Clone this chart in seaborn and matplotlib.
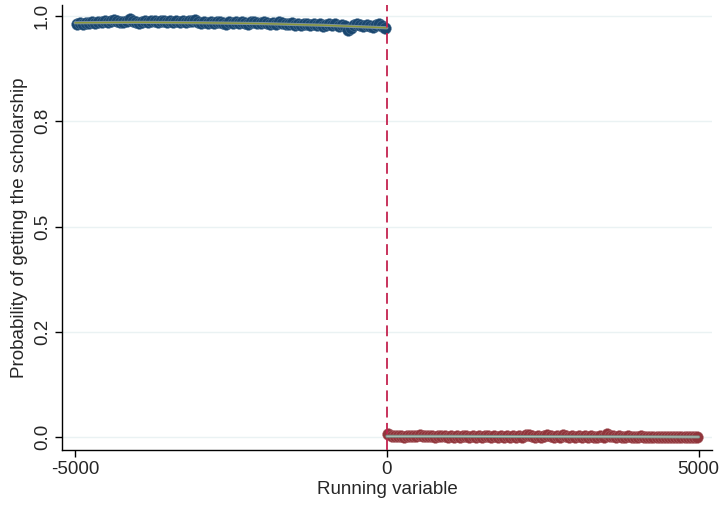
import numpy as np
import pandas as pd
import matplotlib
matplotlib.use('Agg')
import matplotlib.pyplot as plt
import seaborn as sns

# binned means, 100 bins of width 50 on each side of the cutoff
left_x = np.arange(-4975, 0, 50)
left_y = [
    0.982, 0.983, 0.981, 0.984, 0.983, 0.985, 0.984, 0.986, 0.985, 0.987,
    0.986, 0.988, 0.991, 0.987, 0.985, 0.986, 0.988, 0.993, 0.989, 0.986,
    0.984, 0.986, 0.987, 0.985, 0.988, 0.987, 0.986, 0.988, 0.987, 0.986,
    0.988, 0.986, 0.987, 0.985, 0.988, 0.986, 0.987, 0.989, 0.990, 0.985,
    0.983, 0.985, 0.984, 0.986, 0.983, 0.985, 0.986, 0.984, 0.982, 0.985,
    0.984, 0.986, 0.983, 0.985, 0.984, 0.982, 0.985, 0.986, 0.983, 0.984,
    0.985, 0.983, 0.981, 0.984, 0.982, 0.985, 0.983, 0.980, 0.982, 0.984,
    0.979, 0.981, 0.978, 0.980, 0.982, 0.979, 0.981, 0.978, 0.980, 0.977,
    0.979, 0.981, 0.978, 0.980, 0.977, 0.979, 0.976, 0.966, 0.971, 0.978,
    0.980, 0.978, 0.976, 0.979, 0.977, 0.975, 0.978, 0.981, 0.976, 0.972,
]
right_x = np.arange(25, 5000, 50)
right_y = [
    0.007, 0.003, 0.002, 0.003, 0.002, 0.001, 0.002, 0.003, 0.002, 0.003,
    0.004, 0.003, 0.002, 0.003, 0.002, 0.001, 0.002, 0.003, 0.002, 0.001,
    0.002, 0.001, 0.002, 0.001, 0.003, 0.002, 0.001, 0.002, 0.001, 0.002,
    0.001, 0.002, 0.003, 0.001, 0.002, 0.001, 0.002, 0.001, 0.002, 0.001,
    0.002, 0.001, 0.002, 0.001, 0.005, 0.006, 0.002, 0.001, 0.002, 0.001,
    0.003, 0.004, 0.002, 0.001, 0.002, 0.001, 0.005, 0.002, 0.001, 0.002,
    0.001, 0.002, 0.001, 0.002, 0.001, 0.002, 0.001, 0.001, 0.002, 0.001,
    0.007, 0.003, 0.002, 0.001, 0.002, 0.001, 0.001, 0.002, 0.001, 0.001,
    0.001, 0.002, 0.001, 0.000, 0.001, 0.000, 0.001, 0.000, 0.001, 0.000,
    0.001, 0.000, 0.001, 0.000, 0.001, 0.000, 0.000, 0.001, 0.000, 0.000,
]

# polynomial fit on each side
left_fit_x = [-5000, -4000, -3000, -2000, -1000, 0]
left_fit_y = [0.984, 0.985, 0.984, 0.982, 0.978, 0.972]
right_fit_x = [0, 1000, 2000, 3000, 4000, 5000]
right_fit_y = [0.002, 0.002, 0.0015, 0.0012, 0.001, 0.0005]

y_ticks = [0.0, 0.25, 0.5, 0.75, 1.0]
x_ticks = [-5000, 0, 5000]

sns.set_style('white')
plt.rcParams['font.family'] = ['Liberation Sans', 'DejaVu Sans']

fig = plt.figure(figsize=(7.21, 5.07), dpi=100)
ax = fig.add_axes([0.086, 0.112, 0.902, 0.878])

left_df = pd.DataFrame({'x': left_x, 'y': left_y})
right_df = pd.DataFrame({'x': right_x, 'y': right_y})

sns.scatterplot(data=left_df, x='x', y='y', ax=ax, color='#1a476f', s=72,
                edgecolor='#5a7d9c', linewidth=0.3, zorder=3)
sns.scatterplot(data=right_df, x='x', y='y', ax=ax, color='#90353b', s=72,
                edgecolor='#b06a6f', linewidth=0.3, zorder=3)

# fit lines: grey band with coloured centre
sns.lineplot(x=left_fit_x, y=left_fit_y, ax=ax, color='#7e93a0', linewidth=2.3, zorder=4)
sns.lineplot(x=left_fit_x, y=left_fit_y, ax=ax, color='#8b983a', linewidth=1.0, zorder=5)
sns.lineplot(x=right_fit_x, y=right_fit_y, ax=ax, color='#7b8c86', linewidth=2.2, zorder=4)
sns.lineplot(x=right_fit_x, y=right_fit_y, ax=ax, color='#b4c4b8', linewidth=0.8, zorder=5)

ax.axvline(0, color='#c4234f', linewidth=1.3, linestyle=(0, (6, 3)), zorder=6)

ax.set_xlim(-5210, 5220)
ax.set_ylim(-0.031, 1.026)
ax.set_yticks(y_ticks)
ax.set_yticklabels([f'{t:.1f}' for t in y_ticks], rotation=90, va='center')
ax.set_xticks(x_ticks)
ax.set_xticklabels([str(t) for t in x_ticks])
ax.grid(axis='y', color='#eaf2f3', linewidth=1.0)
ax.set_axisbelow(True)

for side in ['top', 'right']:
    ax.spines[side].set_visible(False)
for side in ['left', 'bottom']:
    ax.spines[side].set_color('black')
    ax.spines[side].set_linewidth(1.0)

ax.tick_params(axis='both', direction='out', length=5, width=1.0, color='black',
               labelsize=13.5, left=True, bottom=True, pad=3)
ax.set_xlabel('Running variable', fontsize=13.5, labelpad=2)
ax.set_ylabel('Probability of getting the scholarship', fontsize=13.5, labelpad=4)

fig.savefig('out.png', dpi=100)
